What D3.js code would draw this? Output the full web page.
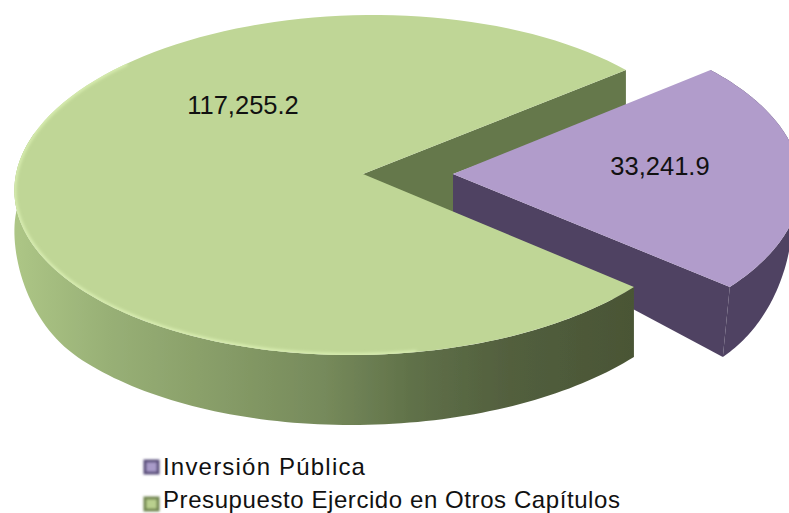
<!doctype html>
<html>
<head>
<meta charset="utf-8">
<script src="https://d3js.org/d3.v7.min.js"></script>
<style>
  html, body { margin: 0; padding: 0; background: #fff; }
  svg { display: block; }
  text { font-family: "Liberation Sans", Arial, sans-serif; fill: #111; }
</style>
</head>
<body>
<svg width="789" height="513"></svg>
<script>
var categories = ["Inversión Pública", "Presupuesto Ejercido en Otros Capítulos"];
var values = [33241.9, 117255.2];
var valueLabels = ["33,241.9", "117,255.2"];

var svg = d3.select("svg"),
    defs = svg.append("defs");

// perspective of the tilted disc
var cx = 363, cy = 174, rx = 347, ry = 169.3, persp = 0.0647;
var explode = [90, 0], shear = [-0.013, -0.065];

function project(a, r) {
    var x = Math.sin(a) * r, y = -Math.cos(a) * r, w = 1 - persp * y;
    return { x: cx + rx * x / w, y: cy + ry * y / w, v: y };
}
// wall height grows towards the viewer
function depth(v) {
    var t = Math.max(0, Math.min(1, v / 0.65));
    return 39 + 31 * t * t * (3 - 2 * t);
}

var share = values[0] / d3.sum(values);
var pie = d3.pie().sort(null)
    .startAngle(Math.PI / 2 - share * Math.PI)
    .endAngle(Math.PI / 2 - share * Math.PI + 2 * Math.PI);
var slices = pie(values);

var line = d3.line().x(function(d) { return d[0]; }).y(function(d) { return d[1]; });

function shifter(i) {
    return function(p) {
        return [p.x + explode[i] + (p.y - cy) * shear[i], p.y];
    };
}
function bottom(i, p) {
    var s = shifter(i)(p), d = depth(p.v);
    var taper = i === 0 ? (p.x - cx) * 0.025 : 0;
    return [s[0] - taper, s[1] + d];
}
function arcPoints(a0, a1) {
    return d3.range(0, 121).map(function(k) {
        return project(a0 + (a1 - a0) * k / 120, 1);
    });
}
function topPath(s, i) {
    var pts = arcPoints(s.startAngle, s.endAngle).map(shifter(i));
    pts.unshift(shifter(i)(project(0, 0)));
    return line(pts) + "Z";
}
function outerWall(a0, a1, i) {
    var pts = arcPoints(a0, a1);
    var up = pts.map(shifter(i));
    var down = pts.map(function(p) { return bottom(i, p); }).reverse();
    return line(up.concat(down)) + "Z";
}
function cutWall(i, angle) {
    var c = project(0, 0), e = project(angle, 1);
    return line([shifter(i)(c), shifter(i)(e), bottom(i, e), bottom(i, c)]) + "Z";
}
// the green back cut runs on behind the pulled out slice
function backWall(angle) {
    var c = project(0, 0), e = project(angle, 1);
    return line([shifter(1)(c), shifter(1)(e), bottom(1, e), shifter(0)(c), bottom(0, c), bottom(1, c)]) + "Z";
}

var blur = defs.append("filter").attr("id", "soft")
    .attr("x", "-5%").attr("y", "-5%").attr("width", "110%").attr("height", "110%");
blur.append("feGaussianBlur").attr("stdDeviation", 0.7);
var rimBlur = defs.append("filter").attr("id", "rim")
    .attr("x", "-5%").attr("y", "-5%").attr("width", "110%").attr("height", "110%");
rimBlur.append("feGaussianBlur").attr("stdDeviation", 1.6);
var swatchBlur = defs.append("filter").attr("id", "swatchBlur")
    .attr("x", "-30%").attr("y", "-30%").attr("width", "160%").attr("height", "160%");
swatchBlur.append("feGaussianBlur").attr("stdDeviation", 1);

var greenWall = defs.append("linearGradient").attr("id", "greenWall")
    .attr("gradientUnits", "userSpaceOnUse")
    .attr("x1", 14).attr("x2", 634).attr("y1", 0).attr("y2", 0);
[[0, "#adc686"], [0.15, "#98b076"], [0.3, "#8aa06a"], [0.5, "#768a5b"], [0.65, "#5f7048"], [0.8, "#525f3e"], [1, "#4a5535"]]
    .forEach(function(d) { greenWall.append("stop").attr("offset", d[0]).attr("stop-color", d[1]); });

var clip = defs.append("clipPath").attr("id", "greenClip");
clip.append("path").attr("d", topPath(slices[1], 1));

var g = svg.append("g").attr("filter", "url(#soft)");

// only the front of the green wall shows
var frontEnd = 3 * Math.PI / 2 + 0.25;

// back cut of the green slice, then the pulled out slice, then the rest of the green one
g.append("path").attr("d", backWall(slices[1].endAngle)).attr("fill", "#65784b");
g.append("path").attr("d", cutWall(0, slices[0].endAngle)).attr("fill", "#4f4262");
g.append("path").attr("d", outerWall(slices[0].startAngle, slices[0].endAngle, 0)).attr("fill", "#4f4262");
g.append("path").attr("d", topPath(slices[0], 0)).attr("fill", "#b19ccb");
g.append("path").attr("d", outerWall(slices[1].startAngle, frontEnd, 1)).attr("fill", "url(#greenWall)");
g.append("path").attr("d", topPath(slices[1], 1)).attr("fill", "#bfd696");

// light rim along the front of the green top
g.append("g").attr("clip-path", "url(#greenClip)")
    .append("path")
    .attr("d", line(arcPoints(slices[1].startAngle + 0.7, frontEnd + 0.5).map(shifter(1))))
    .attr("fill", "none")
    .attr("stroke", "#d8edb0")
    .attr("stroke-width", 4)
    .attr("filter", "url(#rim)");

svg.selectAll(".value")
    .data(slices)
    .enter().append("text")
    .attr("class", "value")
    .attr("text-anchor", "middle")
    .attr("font-size", 25.5)
    .attr("x", function(d, i) { return i === 0 ? 660 : 243; })
    .attr("y", function(d, i) { return i === 0 ? 175 : 114; })
    .text(function(d, i) { return valueLabels[i]; });

var swatchFill = ["#a99bc9", "#b9d08e"], swatchEdge = ["#5b4f7c", "#71854f"];
var legendSpacing = [1.2, 0.58];
var swatchY = d3.scalePoint().domain(categories).range([467, 504]);
var legendY = d3.scalePoint().domain(categories).range([475, 508]);

svg.selectAll(".swatch")
    .data(categories)
    .enter().append("rect")
    .attr("class", "swatch")
    .attr("x", 145).attr("y", function(d) { return swatchY(d) - 6; })
    .attr("width", 13).attr("height", 12)
    .attr("fill", function(d, i) { return swatchFill[i]; })
    .attr("stroke", function(d, i) { return swatchEdge[i]; })
    .attr("stroke-width", 3)
    .attr("filter", "url(#swatchBlur)");

svg.selectAll(".legend")
    .data(categories)
    .enter().append("text")
    .attr("class", "legend")
    .attr("x", 163).attr("y", function(d) { return legendY(d); })
    .attr("font-size", 24)
    .attr("letter-spacing", function(d, i) { return legendSpacing[i]; })
    .text(function(d) { return d; });
</script>
</body>
</html>
